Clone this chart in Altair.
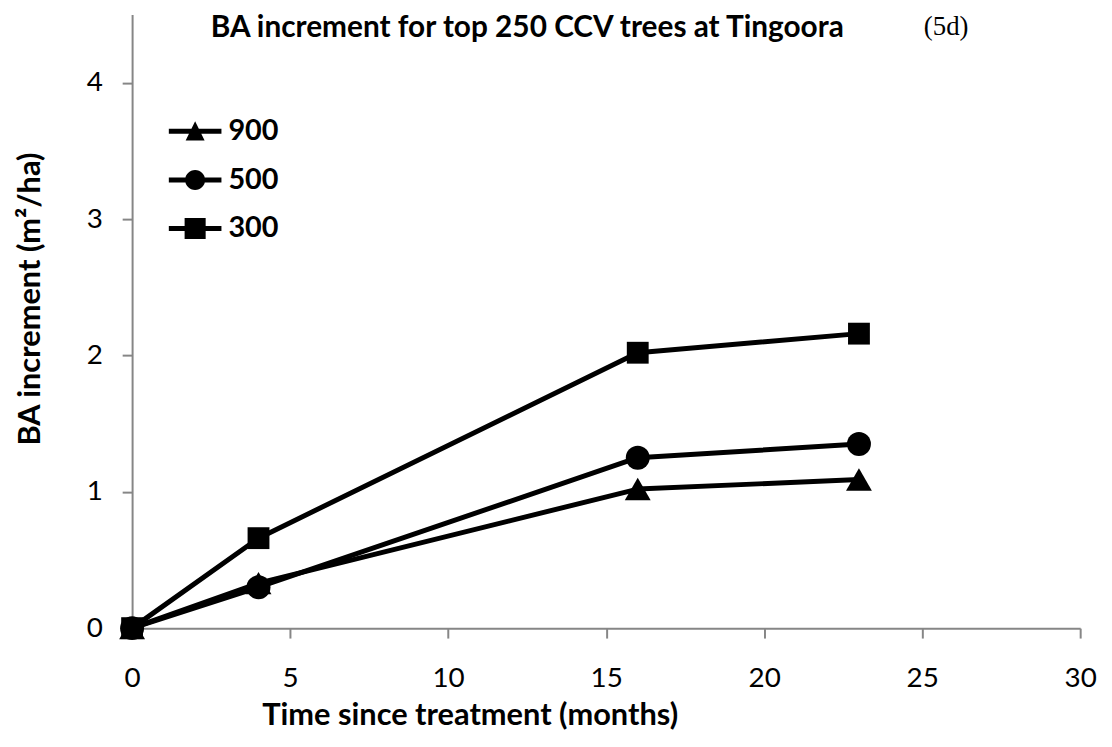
import altair as alt
import pandas as pd

# ---- data ----
months = [0, 4, 16, 23]
ba_900 = [0.0, 0.33, 1.02, 1.09]
ba_500 = [0.0, 0.30, 1.25, 1.35]
ba_300 = [0.0, 0.66, 2.02, 2.16]
series_names = ["900", "500", "300"]
x_ticks = [0, 5, 10, 15, 20, 25, 30]
y_ticks = [0, 0.5, 1, 1.5, 2, 2.5, 3, 3.5, 4, 4.5]
title_text = "BA increment for top 250 CCV trees at Tingoora"
panel_label = "(5d)"
x_title = "Time since treatment (months)"
y_title = "BA increment (m\u00b2/ha)"

rows = []
for name, vals in zip(series_names, [ba_900, ba_500, ba_300]):
    for m, v in zip(months, vals):
        rows.append({"series": name, "months": m, "ba": v})
df = pd.DataFrame(rows)

W, H = 955, 618
GREY = "#868686"
FONT = "Lato"

# legend symbols: line + marker (unit coords, filled, same winding)
bar = "M-1,-0.095H1V0.095H-1Z"
tri = bar + " M0,-0.38L0.36,0.35L-0.36,0.35Z"
cir = bar + " M-0.38,0A0.38,0.38 0 1,1 0.38,0A0.38,0.38 0 1,1 -0.38,0Z"
sqr = bar + " M-0.4,-0.4H0.4V0.4H-0.4Z"

x_enc = alt.X(
    "months:Q",
    scale=alt.Scale(domain=[0, 30], nice=False),
    axis=alt.Axis(
        values=x_ticks, grid=False, domainColor=GREY, domainWidth=2,
        tickColor=GREY, tickWidth=2, tickSize=10, labelFont=FONT,
        labelFontSize=28, labelColor="black", labelPadding=27,
        labelFlush=False, title=x_title, titleFont=FONT, titleFontSize=31,
        titleFontWeight="bold", titleColor="black", titleX=340, titleY=97,
        titleBaseline="alphabetic", titleAlign="center",
    ),
)
y_enc = alt.Y(
    "ba:Q",
    scale=alt.Scale(domain=[0, 4.5], nice=False),
    axis=alt.Axis(
        values=y_ticks, grid=False, domainColor=GREY, domainWidth=2,
        tickColor=GREY, tickWidth=2, tickSize=10, labelFont=FONT,
        labelFontSize=28, labelColor="black", labelPadding=20, format="d",
        labelExpr="datum.value % 1 === 0 ? datum.label : ''",
        title=y_title, titleFont=FONT, titleFontSize=31,
        titleFontWeight="bold", titleColor="black", titleX=-93, titleY=286,
        titleBaseline="alphabetic", titleAlign="center", titleAngle=270,
    ),
)

base = alt.Chart(df)

lines = base.mark_line(color="black", strokeWidth=5, strokeJoin="round").encode(
    x=x_enc, y=y_enc, detail="series:N"
)

points = base.mark_point(filled=True, color="black", opacity=1).encode(
    x="months:Q",
    y="ba:Q",
    shape=alt.Shape(
        "series:N",
        scale=alt.Scale(domain=series_names, range=["triangle-up", "circle", "square"]),
        legend=None,
    ),
    size=alt.Size(
        "series:O",
        scale=alt.Scale(domain=series_names, range=[680, 484, 484]),
        legend=None,
    ),
)

legend_layer = base.transform_filter("false").mark_point(
    filled=True, color="black", opacity=1
).encode(
    x="months:Q",
    y="ba:Q",
    shape=alt.Shape(
        "series:N",
        scale=alt.Scale(domain=series_names, range=[tri, cir, sqr]),
        legend=alt.Legend(
            title=None, orient="none", legendX=37, legendY=91, padding=0,
            symbolSize=2809, symbolFillColor="black", symbolStrokeWidth=0,
            symbolOpacity=1, labelFont=FONT, labelFontSize=29,
            labelFontWeight="bold", labelColor="black", labelOffset=7,
            rowPadding=7,
        ),
    ),
)

titles = alt.Chart(pd.DataFrame({"t": [title_text]})).mark_text(
    font=FONT, fontSize=30, fontWeight="bold", color="black",
    baseline="alphabetic", align="center",
).encode(x=alt.value(398), y=alt.value(23), text="t:N")

panel = alt.Chart(pd.DataFrame({"t": [panel_label]})).mark_text(
    font="Liberation Serif", fontSize=27, color="black",
    baseline="alphabetic", align="center",
).encode(x=alt.value(820), y=alt.value(21), text="t:N")

chart = (
    alt.layer(lines, points, legend_layer, titles, panel)
    .resolve_scale(shape="independent")
    .properties(
        width=W, height=H,
        autosize=alt.AutoSizeParams(type="none"),
        padding={"left": 125, "top": 4, "right": 24, "bottom": 108},
    )
    .configure_view(stroke=None)
)

chart.save("out.html", embed_options={"renderer": "svg", "actions": False})
